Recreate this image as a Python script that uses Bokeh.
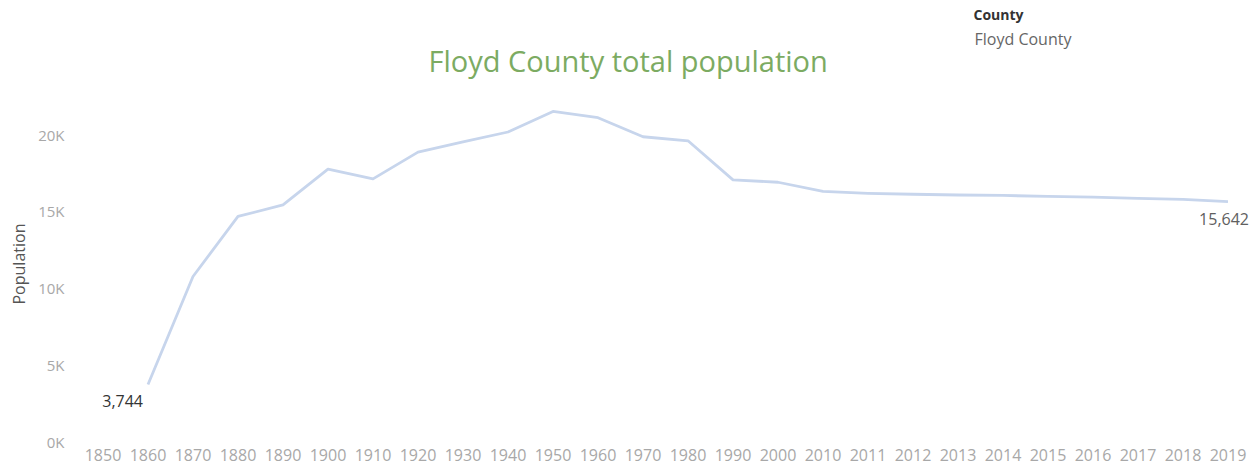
from bokeh.plotting import figure
from bokeh.models import FixedTicker, Title, Label, ColumnDataSource
from bokeh.core.properties import value
from bokeh.embed import file_html
from bokeh.resources import INLINE

years = ["1850", "1860", "1870", "1880", "1890", "1900", "1910", "1920", "1930",
         "1940", "1950", "1960", "1970", "1980", "1990", "2000", "2010",
         "2011", "2012", "2013", "2014", "2015", "2016", "2017", "2018", "2019"]
data_years = years[1:]
population = [3744, 10768, 14677, 15424, 17754, 17119, 18860, 19524, 20169,
              21505, 21102, 19860, 19597, 17058, 16900, 16303,
              16180, 16120, 16070, 16040, 15980, 15930, 15850, 15780, 15642]
y_ticks = [0, 5000, 10000, 15000, 20000]
y_tick_labels = ["0K", "5K", "10K", "15K", "20K"]

FONT = "Open Sans"

p = figure(x_range=years, y_range=(-228, 25537), width=1258, height=467,
           output_backend="svg", toolbar_location=None,
           min_border_left=79, min_border_right=8, min_border_top=0, min_border_bottom=22)
p.outline_line_color = None
p.xgrid.grid_line_color = None
p.ygrid.grid_line_color = None

src = ColumnDataSource(dict(x=data_years, y=population))
p.line("x", "y", source=src, line_color="#c7d5ec", line_width=2.8, line_join="round")

# axes
p.xaxis.axis_line_color = None
p.xaxis.major_tick_line_color = None
p.xaxis.minor_tick_line_color = None
p.xaxis.major_tick_out = 0
p.xaxis.major_tick_in = 0
p.xaxis.major_label_standoff = 3
p.xaxis.major_label_text_font = FONT
p.xaxis.major_label_text_font_size = "16px"
p.xaxis.major_label_text_color = "#a8a8a8"

p.yaxis.axis_line_color = None
p.yaxis.major_tick_line_color = None
p.yaxis.minor_tick_line_color = None
p.yaxis.major_tick_out = 0
p.yaxis.major_tick_in = 0
p.yaxis.ticker = FixedTicker(ticks=y_ticks)
p.yaxis.major_label_overrides = {t: lab for t, lab in zip(y_ticks, y_tick_labels)}
p.yaxis.major_label_standoff = 16
p.yaxis.major_label_text_font = FONT
p.yaxis.major_label_text_font_size = "15px"
p.yaxis.major_label_text_color = "#a8a8a8"

# y-axis title, placed along the left side
p.add_layout(Title(text="Population", align="left", offset=141, standoff=11,
                   text_font=FONT, text_font_size="16px", text_font_style="normal",
                   text_color="#555555"), "left")

# end point labels
p.text(x=[data_years[0]], y=[population[0]], text=[f"{population[0]:,}"],
       x_offset=-5, y_offset=17, text_align="right", text_baseline="middle",
       text_font=value(FONT), text_font_size="16px", text_color="#333333")
p.text(x=[data_years[-1]], y=[population[-1]], text=[f"{population[-1]:,}"],
       x_offset=21, y_offset=17, text_align="right", text_baseline="middle",
       text_font=value(FONT), text_font_size="16px", text_color="#606060")

# chart title inside the plot area
p.add_layout(Label(x=348, y=385, x_units="screen", y_units="screen",
                   text="Floyd County total population", text_align="left",
                   text_baseline="alphabetic", text_font=FONT, text_font_size="29px",
                   text_color="#7cab62"))

# legend header, stacked above the plot area
p.add_layout(Title(text="Floyd County", align="left", offset=894, standoff=0,
                   text_font=FONT, text_font_size="16px", text_font_style="normal",
                   text_color="#666666"), "above")
p.add_layout(Title(text="County", align="left", offset=893, standoff=4,
                   text_font=FONT, text_font_size="14px", text_font_style="bold",
                   text_color="#333333"), "above")

open("out.html", "w").write(file_html(p, INLINE))
